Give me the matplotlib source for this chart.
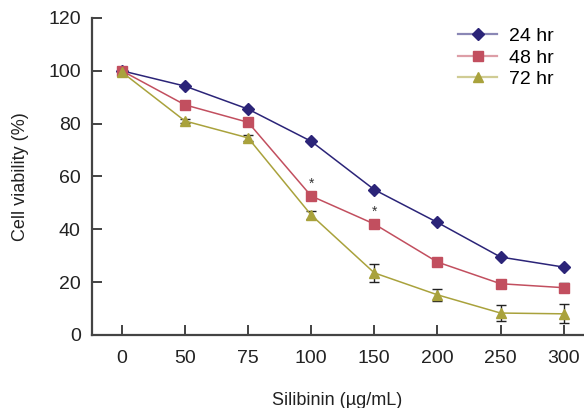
import numpy as np
import matplotlib
matplotlib.use("Agg")
import matplotlib.pyplot as plt
from matplotlib import font_manager
from matplotlib.lines import Line2D
import matplotlib.colors as mcolors

names = {f.name for f in font_manager.fontManager.ttflist}
fam = 'Liberation Sans Narrow' if 'Liberation Sans Narrow' in names else 'Liberation Sans'
plt.rcParams['font.family'] = [fam, 'DejaVu Sans']

doses = ['0', '50', '75', '100', '150', '200', '250', '300']
hr24 = [100, 94.2, 85.5, 73.3, 55.0, 42.6, 29.5, 25.7]
hr48 = [100, 87.1, 80.5, 52.6, 42.0, 27.6, 19.4, 17.9]
hr72 = [99.5, 81.0, 74.6, 45.4, 23.5, 15.2, 8.3, 8.0]
err24 = [0, 0, 0, 0, 0, 0, 0, 0]
err48 = [0, 1.6, 0.8, 0.8, 0.8, 0.8, 0.8, 1.8]
err72 = [0, 0.8, 1.2, 1.5, 3.3, 2.2, 3.0, 3.6]
star_idx = [3, 4]

c24, c48, c72 = '#2b2478', '#c24f5f', '#a9a23c'

def lighten(c, f=0.45):
    r = np.array(mcolors.to_rgb(c))
    return tuple(r + (1 - r) * f)

fig = plt.figure(figsize=(5.84, 4.08), dpi=100)
ax = fig.add_axes([0.1575, 0.179, 0.84, 0.777])
x = np.arange(len(doses))

handles = []
for y, e, c, m, ms, lab in [(hr24, err24, c24, 'D', 6, '24 hr'),
                           (hr48, err48, c48, 's', 7.5, '48 hr'),
                           (hr72, err72, c72, '^', 7.5, '72 hr')]:
    ax.errorbar(x, y, yerr=e, fmt='none', ecolor='#222222', elinewidth=1, capsize=3.5, capthick=1, zorder=2)
    ax.plot(x, y, color=c, lw=1.1, marker=m, ms=ms, mfc=c, mec=c, zorder=3)
    handles.append(Line2D([], [], color=lighten(c), lw=1.6, marker=m, ms=ms, mfc=c, mec=c, label=lab))

for i in star_idx:
    ax.text(x[i], hr48[i] + 4.5, '*', ha='center', va='center', fontsize=10, color='#333333')

ax.set_xlim(-0.474, 7.3)
ax.set_ylim(0, 120)
ax.set_xticks(x)
ax.set_xticklabels(doses)
ax.set_yticks(np.arange(0, 121, 20))
ax.tick_params(direction='in', length=7, width=1.2, labelsize=14, colors='#222222', pad=8)
ax.tick_params(axis='x', pad=11)
for s in ['top', 'right']:
    ax.spines[s].set_visible(False)
for s in ['left', 'bottom']:
    ax.spines[s].set_linewidth(1.6)
    ax.spines[s].set_color('#444444')

ax.set_xlabel('Silibinin (\u00b5g/mL)', fontsize=13, labelpad=18, color='#222222')
ax.set_ylabel('Cell viability (%)', fontsize=13, labelpad=14, color='#222222')

ax.legend(handles=handles, loc='upper right', bbox_to_anchor=(0.977, 1.025), frameon=False, fontsize=14,
          handlelength=2.0, handletextpad=0.6, labelspacing=0.2)
fig.savefig('out.png', dpi=100)
